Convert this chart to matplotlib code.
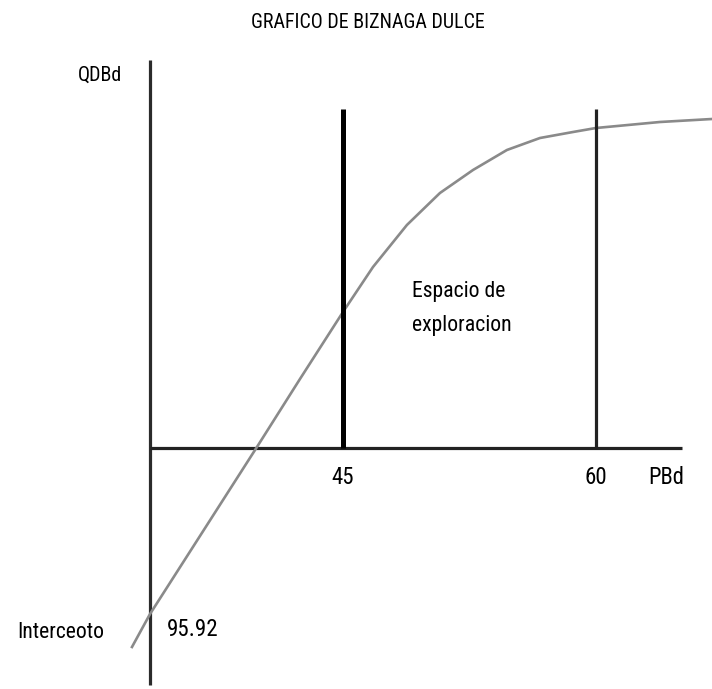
import numpy as np
import matplotlib
matplotlib.use("Agg")
import matplotlib.pyplot as plt
from matplotlib import font_manager

names = {f.name for f in font_manager.fontManager.ttflist}
narrow = [n for n in ['Liberation Sans Narrow', 'Roboto Condensed', 'Open Sans Condensed'] if n in names]
plt.rcParams['font.family'] = narrow + ['DejaVu Sans']

# curve (PBd vs QDBd, arbitrary vertical units)
pbd = [32.49, 33.56, 39.90, 42.45, 45.0, 46.78, 48.79, 50.75, 52.71, 54.72, 56.68, 58.64, 60.0, 63.79, 66.88]
qdbd = [-19.9, -16.6, 0.1, 6.9, 13.6, 18.1, 22.3, 25.5, 27.8, 29.8, 31.0, 31.6, 32.0, 32.6, 32.9]

y_axis_x = 33.56
x_axis_end = 65.1
y_axis_bottom, y_axis_top = -23.7, 38.8
limits = [45, 60]
limit_top = 33.9
intercept = 95.92

fig = plt.figure(figsize=(7.12, 6.89), dpi=100)
ax = fig.add_axes([0, 0, 1, 1])
ax.set_xlim(24.665, 66.88)
ax.set_ylim(-24.1, 44.8)
ax.axis('off')

# axes
ax.plot([y_axis_x, y_axis_x], [y_axis_bottom, y_axis_top], color='#2b2b2b', lw=2.3, solid_capstyle='butt')
ax.plot([y_axis_x, x_axis_end], [0, 0], color='#222222', lw=2.3, solid_capstyle='butt')

# curve
ax.plot(pbd, qdbd, color='#8a8a8a', lw=1.9, zorder=3, solid_joinstyle='round')

# limit lines
ax.plot([limits[0], limits[0]], [0, limit_top], color='#000000', lw=3.6, solid_capstyle='butt', zorder=4)
ax.plot([limits[1], limits[1]], [0, limit_top], color='#222222', lw=2.3, solid_capstyle='butt', zorder=4)

# text
fig.text(0.516, 0.968, "GRAFICO DE BIZNAGA DULCE", ha='center', va='center', fontsize=14.4, fontstretch='condensed')
fig.text(0.141, 0.891, "QDBd", ha='center', va='center', fontsize=14.5, fontstretch='condensed')
for v in limits:
    ax.text(v, -2.9, str(v), ha='center', va='center', fontsize=16.5, fontstretch='condensed')
ax.text(64.15, -2.9, "PBd", ha='center', va='center', fontsize=16.3, fontstretch='condensed')
ax.text(49.09, 13.95, "Espacio de\nexploracion", ha='left', va='center', fontsize=15.7, linespacing=1.85, fontstretch='condensed')
ax.text(25.67, -18.4, "Interceoto", ha='left', va='center', fontsize=15.6, fontstretch='condensed')
ax.text(34.55, -18.2, f"{intercept:.2f}", ha='left', va='center', fontsize=16.6, fontstretch='condensed')

fig.savefig("out.png", dpi=100)
